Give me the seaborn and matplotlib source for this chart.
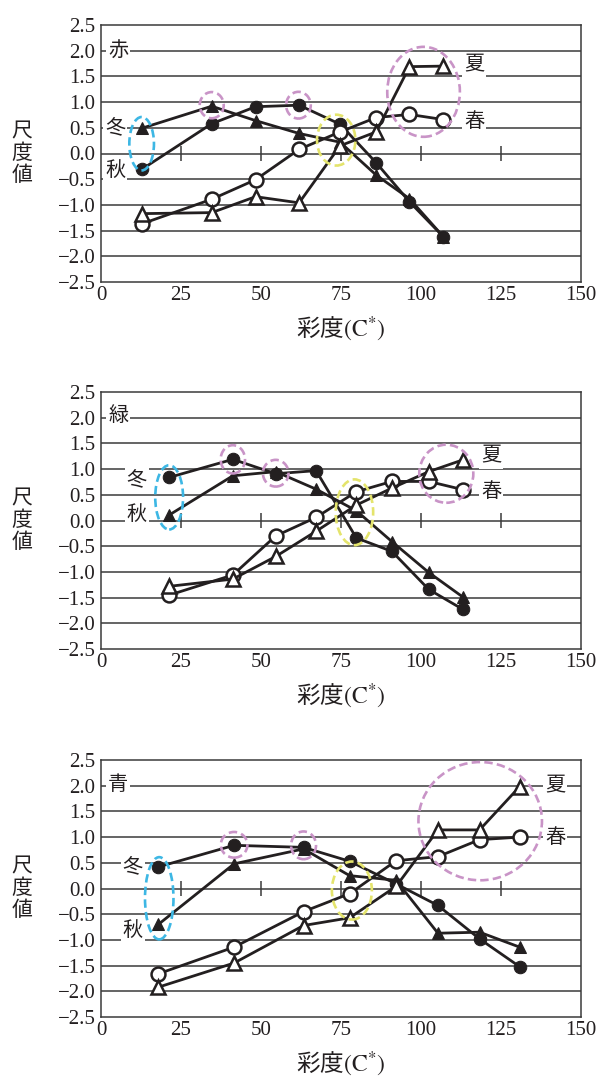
import matplotlib
matplotlib.use("Agg")
import matplotlib.pyplot as plt
from matplotlib.patches import Ellipse
import seaborn as sns

# ---- data: scale values per colour, by season ----
panel_names = ["赤", "緑", "青"]

red_c = [12.7, 34.6, 48.3, 61.9, 74.7, 86.0, 96.4, 107.0]
red_winter = [0.49, 0.92, 0.64, 0.39, 0.22, -0.42, -0.88, -1.62]
red_autumn = [-0.31, 0.58, 0.91, 0.94, 0.57, -0.18, -0.94, -1.62]
red_spring = [-1.37, -0.89, -0.51, 0.08, 0.42, 0.70, 0.76, 0.66]
red_summer = [-1.17, -1.15, -0.84, -0.96, 0.15, 0.42, 1.69, 1.70]

green_c = [21.4, 41.2, 54.6, 67.2, 79.8, 90.9, 102.4, 113.1]
green_winter = [0.84, 1.19, 0.91, 0.97, -0.34, -0.60, -1.34, -1.73]
green_autumn = [0.11, 0.87, 0.95, 0.61, 0.19, -0.41, -1.01, -1.49]
green_spring = [-1.45, -1.06, -0.30, 0.06, 0.56, 0.76, 0.76, 0.60]
green_summer = [-1.28, -1.14, -0.70, -0.21, 0.30, 0.63, 0.95, 1.18]

blue_c = [17.9, 41.6, 63.3, 77.7, 92.2, 105.3, 118.3, 130.8]
blue_winter = [0.42, 0.84, 0.80, 0.53, 0.09, -0.33, -0.98, -1.52]
blue_autumn = [-0.70, 0.48, 0.77, 0.25, 0.16, -0.87, -0.85, -1.14]
blue_spring = [-1.66, -1.14, -0.45, -0.10, 0.54, 0.62, 0.95, 1.00]
blue_summer = [-1.92, -1.45, -0.72, -0.57, 0.04, 1.14, 1.14, 1.98]

x_ticks = [0, 25, 50, 75, 100, 125, 150]
y_ticks = [-2.5, -2.0, -1.5, -1.0, -0.5, 0.0, 0.5, 1.0, 1.5, 2.0, 2.5]

INK = "#231f20"
CYAN = "#3db7e4"
PINK = "#c994c7"
YELLOW = "#e4e46c"

sns.set_theme(style="white")
plt.rcParams["font.family"] = ["Liberation Serif", "Noto Sans CJK JP", "DejaVu Sans"]
plt.rcParams["axes.unicode_minus"] = True
plt.rcParams["mathtext.fontset"] = "stix"
CJK = ["Noto Sans CJK JP", "DejaVu Sans"]

fig = plt.figure(figsize=(6.0, 10.79), dpi=100)
W, H = 600.0, 1079.0
axes_px = [(25, 282), (392, 649), (760, 1017)]

# marker styles for each season (filled / open)
def style(kind):
    if kind == "filled_tri":
        return dict(marker="^", markersize=9, markerfacecolor=INK, markeredgecolor=INK)
    if kind == "filled_circ":
        return dict(marker="o", markersize=9, markerfacecolor=INK, markeredgecolor=INK)
    if kind == "open_circ":
        return dict(marker="o", markersize=10, markerfacecolor="white",
                    markeredgecolor=INK, markeredgewidth=1.8)
    return dict(marker="^", markersize=10.5, markerfacecolor="white",
                markeredgecolor=INK, markeredgewidth=1.8)

panels = [
    dict(name="赤", c=red_c,
         series=[(red_winter, "filled_tri"), (red_autumn, "filled_circ"),
                 (red_spring, "open_circ"), (red_summer, "open_tri")],
         name_xy=(5.3, 2.0), winter_xy=(4.4, 0.5), autumn_xy=(4.4, -0.34),
         summer_xy=(116.6, 1.72), spring_xy=(116.6, 0.62),
         ellipses=[(12.7, 0.19, 7.7, 1.04, CYAN), (34.6, 0.94, 7.5, 0.51, PINK),
                   (61.7, 0.94, 7.7, 0.52, PINK), (73.5, 0.26, 12.0, 0.99, YELLOW),
                   (100.8, 1.2, 22.7, 1.75, PINK)]),
    dict(name="緑", c=green_c,
         series=[(green_winter, "filled_circ"), (green_autumn, "filled_tri"),
                 (green_spring, "open_circ"), (green_summer, "open_tri")],
         name_xy=(5.4, 2.05), winter_xy=(11.2, 0.79), autumn_xy=(11.2, 0.11),
         summer_xy=(122.0, 1.25), spring_xy=(122.0, 0.56),
         ellipses=[(21.3, 0.45, 8.7, 1.25, CYAN), (41.2, 1.19, 7.6, 0.55, PINK),
                   (54.6, 0.92, 8.0, 0.52, PINK), (79.2, 0.16, 11.7, 1.28, YELLOW),
                   (107.9, 0.91, 16.9, 1.13, PINK)]),
    dict(name="青", c=blue_c,
         series=[(blue_winter, "filled_circ"), (blue_autumn, "filled_tri"),
                 (blue_spring, "open_circ"), (blue_summer, "open_tri")],
         name_xy=(5.4, 2.02), winter_xy=(9.9, 0.42), autumn_xy=(9.9, -0.82),
         summer_xy=(142.0, 2.0), spring_xy=(142.0, 0.99),
         ellipses=[(18.2, -0.19, 8.9, 1.60, CYAN), (41.6, 0.85, 8.3, 0.50, PINK),
                   (63.3, 0.84, 7.8, 0.54, PINK), (78.4, -0.04, 12.5, 1.13, YELLOW),
                   (118.5, 1.31, 38.6, 2.30, PINK)]),
]

label_box = dict(facecolor="white", edgecolor="none", pad=1.5)

for (top, bottom), p in zip(axes_px, panels):
    ax = fig.add_axes([101 / W, 1 - bottom / H, 480 / W, (bottom - top) / H])
    ax.set_xlim(0, 150)
    ax.set_ylim(-2.5, 2.5)

    # horizontal rules at every half step
    for yv in y_ticks[1:-1]:
        ax.axhline(yv, color="#3a3a3a", lw=1.1, zorder=1)
    # small ticks crossing the zero line
    ax.vlines(x_ticks[1:-1], -0.14, 0.15, color="#3a3a3a", lw=1.1, zorder=1)

    for vals, kind in p["series"]:
        sns.lineplot(x=p["c"], y=vals, ax=ax, color=INK, lw=2.0, sort=False,
                     zorder=3, **style(kind))

    for cx, cy, w, h, col in p["ellipses"]:
        ax.add_patch(Ellipse((cx, cy), w, h, fill=False, edgecolor=col, lw=1.9,
                             linestyle=(0, (3.2, 1.6)), zorder=4))

    text_kw = dict(family=CJK, fontsize=14.5, ha="center", va="center",
                   color="#231f20", zorder=5)
    ax.text(*p["name_xy"], p["name"], bbox=label_box, **text_kw)
    ax.text(*p["winter_xy"], "冬", bbox=label_box, **text_kw)
    ax.text(*p["autumn_xy"], "秋", bbox=label_box, **text_kw)
    ax.text(*p["summer_xy"], "夏", bbox=label_box, **text_kw)
    ax.text(*p["spring_xy"], "春", bbox=label_box, **text_kw)

    ax.set_xticks(x_ticks)
    ax.set_xticklabels([str(v) for v in x_ticks])
    ax.set_yticks(y_ticks)
    ax.set_yticklabels([f"{v:.1f}".replace("-", "\u2212") for v in y_ticks])
    ax.tick_params(axis="both", labelsize=15, colors="#231f20", length=0, pad=4)
    ax.tick_params(axis="x", pad=3)
    for lab in ax.get_xticklabels() + ax.get_yticklabels():
        lab.set_family("Liberation Serif")

    for s in ax.spines.values():
        s.set_color("#3a3a3a")
        s.set_linewidth(1.1)
        s.set_visible(True)

    ax.set_xlabel("彩度$(\\mathrm{C}^{*})$", family=CJK, fontsize=17,
                  color="#231f20", labelpad=7)
    ax.set_ylabel("")

    # stacked vertical axis caption
    zero_y = 1 - ((top + bottom) / 2) / H
    fig.text(22 / W, zero_y, "尺\n度\n値", family=CJK, fontsize=15,
             ha="center", va="center", linespacing=1.0, color="#231f20")

fig.savefig("out.png", dpi=100, facecolor="white")
